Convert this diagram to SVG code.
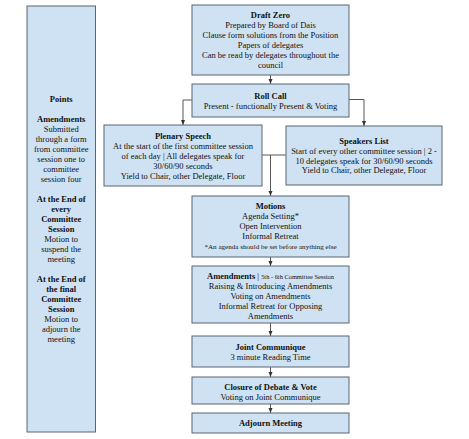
<svg xmlns="http://www.w3.org/2000/svg" width="469" height="439" viewBox="0 0 469 439">
<defs>
<style>
.box{fill:#cfe2f3;stroke:#5b6470;stroke-width:1}
text{font-family:"Liberation Serif","Times New Roman",serif;font-size:8.5px;fill:#111;text-anchor:middle}
.b{font-weight:bold}
.sm{font-size:6.4px}
.note{font-size:7.1px}
.c{fill:none;stroke:#444;stroke-width:0.9}
</style>
<marker id="ah" markerWidth="6" markerHeight="6" refX="5" refY="3" orient="auto" markerUnits="userSpaceOnUse">
<path d="M0,1 L5,3 L0,5 Z" fill="#333"/>
</marker>
</defs>
<rect width="469" height="439" fill="#fff"/>

<g id="points">
<rect class="box" x="27" y="6" width="68.5" height="426"/>
<text x="61.2" y="102" class="b">Points</text>
<text x="61.2" y="122" class="b">Amendments</text>
<text x="61.2" y="132">Submitted</text>
<text x="61.2" y="142">through a form</text>
<text x="61.2" y="152">from committee</text>
<text x="61.2" y="162">session one to</text>
<text x="61.2" y="172">committee</text>
<text x="61.2" y="182">session four</text>
<text x="61.2" y="202" class="b">At the End of</text>
<text x="61.2" y="212" class="b">every</text>
<text x="61.2" y="222" class="b">Committee</text>
<text x="61.2" y="232" class="b">Session</text>
<text x="61.2" y="242">Motion to</text>
<text x="61.2" y="252">suspend the</text>
<text x="61.2" y="262">meeting</text>
<text x="61.2" y="282" class="b">At the End of</text>
<text x="61.2" y="292" class="b">the final</text>
<text x="61.2" y="302" class="b">Committee</text>
<text x="61.2" y="312" class="b">Session</text>
<text x="61.2" y="322">Motion to</text>
<text x="61.2" y="332">adjourn the</text>
<text x="61.2" y="342">meeting</text>
</g>

<g id="connectors">
<path class="c" d="M270.5,75 V84" marker-end="url(#ah)"/>
<path class="c" d="M192,100 H183 V125" marker-end="url(#ah)"/>
<path class="c" d="M349,99.5 H364 V126" marker-end="url(#ah)"/>
<path class="c" d="M262,155 H270.5 V196" marker-end="url(#ah)"/>
<path class="c" d="M286,155 H270.5"/>
<path class="c" d="M270.5,257 V266" marker-end="url(#ah)"/>
<path class="c" d="M270.5,323 V336" marker-end="url(#ah)"/>
<path class="c" d="M270.5,367 V377" marker-end="url(#ah)"/>
<path class="c" d="M270.5,404 V413" marker-end="url(#ah)"/>
</g>

<g id="draft-zero">
<rect class="box" x="192" y="5" width="157" height="70"/>
<text x="270.5" y="18" class="b">Draft Zero</text>
<text x="270.5" y="28">Prepared by Board of Dais</text>
<text x="270.5" y="38">Clause form solutions from the Position</text>
<text x="270.5" y="48">Papers of delegates</text>
<text x="270.5" y="58">Can be read by delegates throughout the</text>
<text x="270.5" y="68">council</text>
</g>

<g id="roll-call">
<rect class="box" x="192" y="84" width="157" height="33"/>
<text x="270.5" y="98.5" class="b">Roll Call</text>
<text x="270.5" y="108.5">Present - functionally Present &amp; Voting</text>
</g>

<g id="plenary-speech">
<rect class="box" x="104" y="125" width="158" height="61"/>
<text x="183" y="138.5" class="b">Plenary Speech</text>
<text x="183" y="148.5">At the start of the first committee session</text>
<text x="183" y="158.5">of each day | All delegates speak for</text>
<text x="183" y="168.5">30/60/90 seconds</text>
<text x="183" y="178.5">Yield to Chair, other Delegate, Floor</text>
</g>

<g id="speakers-list">
<rect class="box" x="286" y="126" width="156" height="59"/>
<text x="364" y="143.5" class="b">Speakers List</text>
<text x="364" y="153.5">Start of every other committee session | 2 -</text>
<text x="364" y="163.5">10 delegates speak for 30/60/90 seconds</text>
<text x="364" y="173">Yield to Chair, other Delegate, Floor</text>
</g>

<g id="motions">
<rect class="box" x="192" y="196" width="157" height="61"/>
<text x="270.5" y="209" class="b">Motions</text>
<text x="270.5" y="219">Agenda Setting*</text>
<text x="270.5" y="229">Open Intervention</text>
<text x="270.5" y="239">Informal Retreat</text>
<text x="270.5" y="248.5" class="note">*An agenda should be set before anything else</text>
</g>

<g id="amendments">
<rect class="box" x="192" y="266" width="157" height="57"/>
<text x="270.5" y="278.5"><tspan class="b">Amendments</tspan> | <tspan class="sm">5th - 6th Committee Session</tspan></text>
<text x="270.5" y="288.5">Raising &amp; Introducing Amendments</text>
<text x="270.5" y="298.5">Voting on Amendments</text>
<text x="270.5" y="308.5">Informal Retreat for Opposing</text>
<text x="270.5" y="318.5">Amendments</text>
</g>

<g id="joint-communique">
<rect class="box" x="192" y="336" width="157" height="31"/>
<text x="270.5" y="349.5" class="b">Joint Communique</text>
<text x="270.5" y="359.5">3 minute Reading Time</text>
</g>

<g id="closure">
<rect class="box" x="192" y="377" width="157" height="27"/>
<text x="270.5" y="390" class="b">Closure of Debate &amp; Vote</text>
<text x="270.5" y="400">Voting on Joint Communique</text>
</g>

<g id="adjourn">
<rect class="box" x="192" y="413" width="157" height="20"/>
<text x="270.5" y="426" class="b">Adjourn Meeting</text>
</g>
</svg>
